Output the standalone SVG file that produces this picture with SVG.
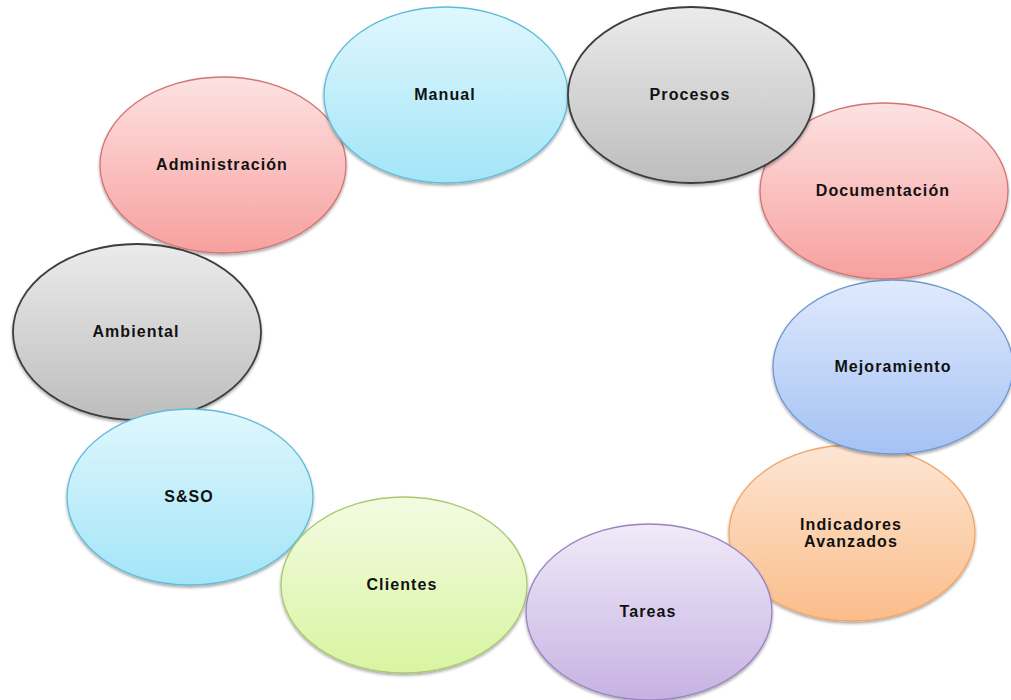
<svg xmlns="http://www.w3.org/2000/svg" width="1011" height="700" viewBox="0 0 1011 700">
<defs>
<linearGradient id="gBlue" x1="0" y1="0" x2="0" y2="1"><stop offset="0" stop-color="#e0f7fd"/><stop offset="1" stop-color="#a3e5f8"/></linearGradient>
<linearGradient id="gGray" x1="0" y1="0" x2="0" y2="1"><stop offset="0" stop-color="#ebebeb"/><stop offset="1" stop-color="#bdbdbd"/></linearGradient>
<linearGradient id="gRed" x1="0" y1="0" x2="0" y2="1"><stop offset="0" stop-color="#fde2e2"/><stop offset="1" stop-color="#f7a09e"/></linearGradient>
<linearGradient id="gSteel" x1="0" y1="0" x2="0" y2="1"><stop offset="0" stop-color="#e0eafc"/><stop offset="1" stop-color="#a4c2f4"/></linearGradient>
<linearGradient id="gOrange" x1="0" y1="0" x2="0" y2="1"><stop offset="0" stop-color="#fde6d4"/><stop offset="1" stop-color="#fbbd8a"/></linearGradient>
<linearGradient id="gPurple" x1="0" y1="0" x2="0" y2="1"><stop offset="0" stop-color="#f0eaf8"/><stop offset="1" stop-color="#c6b2e2"/></linearGradient>
<linearGradient id="gGreen" x1="0" y1="0" x2="0" y2="1"><stop offset="0" stop-color="#f3fbe3"/><stop offset="1" stop-color="#d8f5a0"/></linearGradient>
<filter id="sh" x="-10%" y="-10%" width="120%" height="125%">
<feGaussianBlur in="SourceAlpha" stdDeviation="1.5"/>
<feOffset dx="0" dy="2" result="b"/>
<feComponentTransfer><feFuncA type="linear" slope="0.35"/></feComponentTransfer>
<feMerge><feMergeNode/><feMergeNode in="SourceGraphic"/></feMerge>
</filter>
</defs>
<style>
ellipse{filter:url(#sh);stroke-width:1.3}
.blue{fill:url(#gBlue);stroke:#5fbcd8}
.gray{fill:url(#gGray);stroke:#3c3c3c;stroke-width:1.8}
.red{fill:url(#gRed);stroke:#d27472}
.steel{fill:url(#gSteel);stroke:#6e97d0}
.orange{fill:url(#gOrange);stroke:#f3a465}
.purple{fill:url(#gPurple);stroke:#9b82c2}
.green{fill:url(#gGreen);stroke:#a9c96e}
text{font-family:"Liberation Sans",Arial,sans-serif;font-weight:bold;font-size:16px;letter-spacing:1.1px;fill:#111;text-anchor:middle}
</style>
<rect width="1011" height="700" fill="#ffffff"/>
<g id="administracion"><ellipse class="red" cx="223" cy="165" rx="123" ry="88"/><text x="222" y="170">Administración</text></g>
<g id="documentacion"><ellipse class="red" cx="884" cy="191" rx="124" ry="88"/><text x="883" y="196">Documentación</text></g>
<g id="indicadores"><ellipse class="orange" cx="852" cy="533" rx="123" ry="88"/><text x="851" y="530">Indicadores</text><text x="851" y="547">Avanzados</text></g>
<g id="manual"><ellipse class="blue" cx="446" cy="95" rx="122" ry="88"/><text x="445" y="100">Manual</text></g>
<g id="procesos"><ellipse class="gray" cx="691" cy="95" rx="123" ry="88"/><text x="690" y="100">Procesos</text></g>
<g id="mejoramiento"><ellipse class="steel" cx="893" cy="367" rx="120" ry="87"/><text x="893" y="372">Mejoramiento</text></g>
<g id="ambiental"><ellipse class="gray" cx="137" cy="332" rx="124" ry="88"/><text x="136" y="337">Ambiental</text></g>
<g id="sso"><ellipse class="blue" cx="190" cy="497" rx="123" ry="88"/><text x="189" y="502">S&amp;SO</text></g>
<g id="clientes"><ellipse class="green" cx="404" cy="585" rx="123" ry="88"/><text x="402" y="590">Clientes</text></g>
<g id="tareas"><ellipse class="purple" cx="649" cy="612" rx="123" ry="88"/><text x="648" y="617">Tareas</text></g>
<g id="connectors"></g>
</svg>
